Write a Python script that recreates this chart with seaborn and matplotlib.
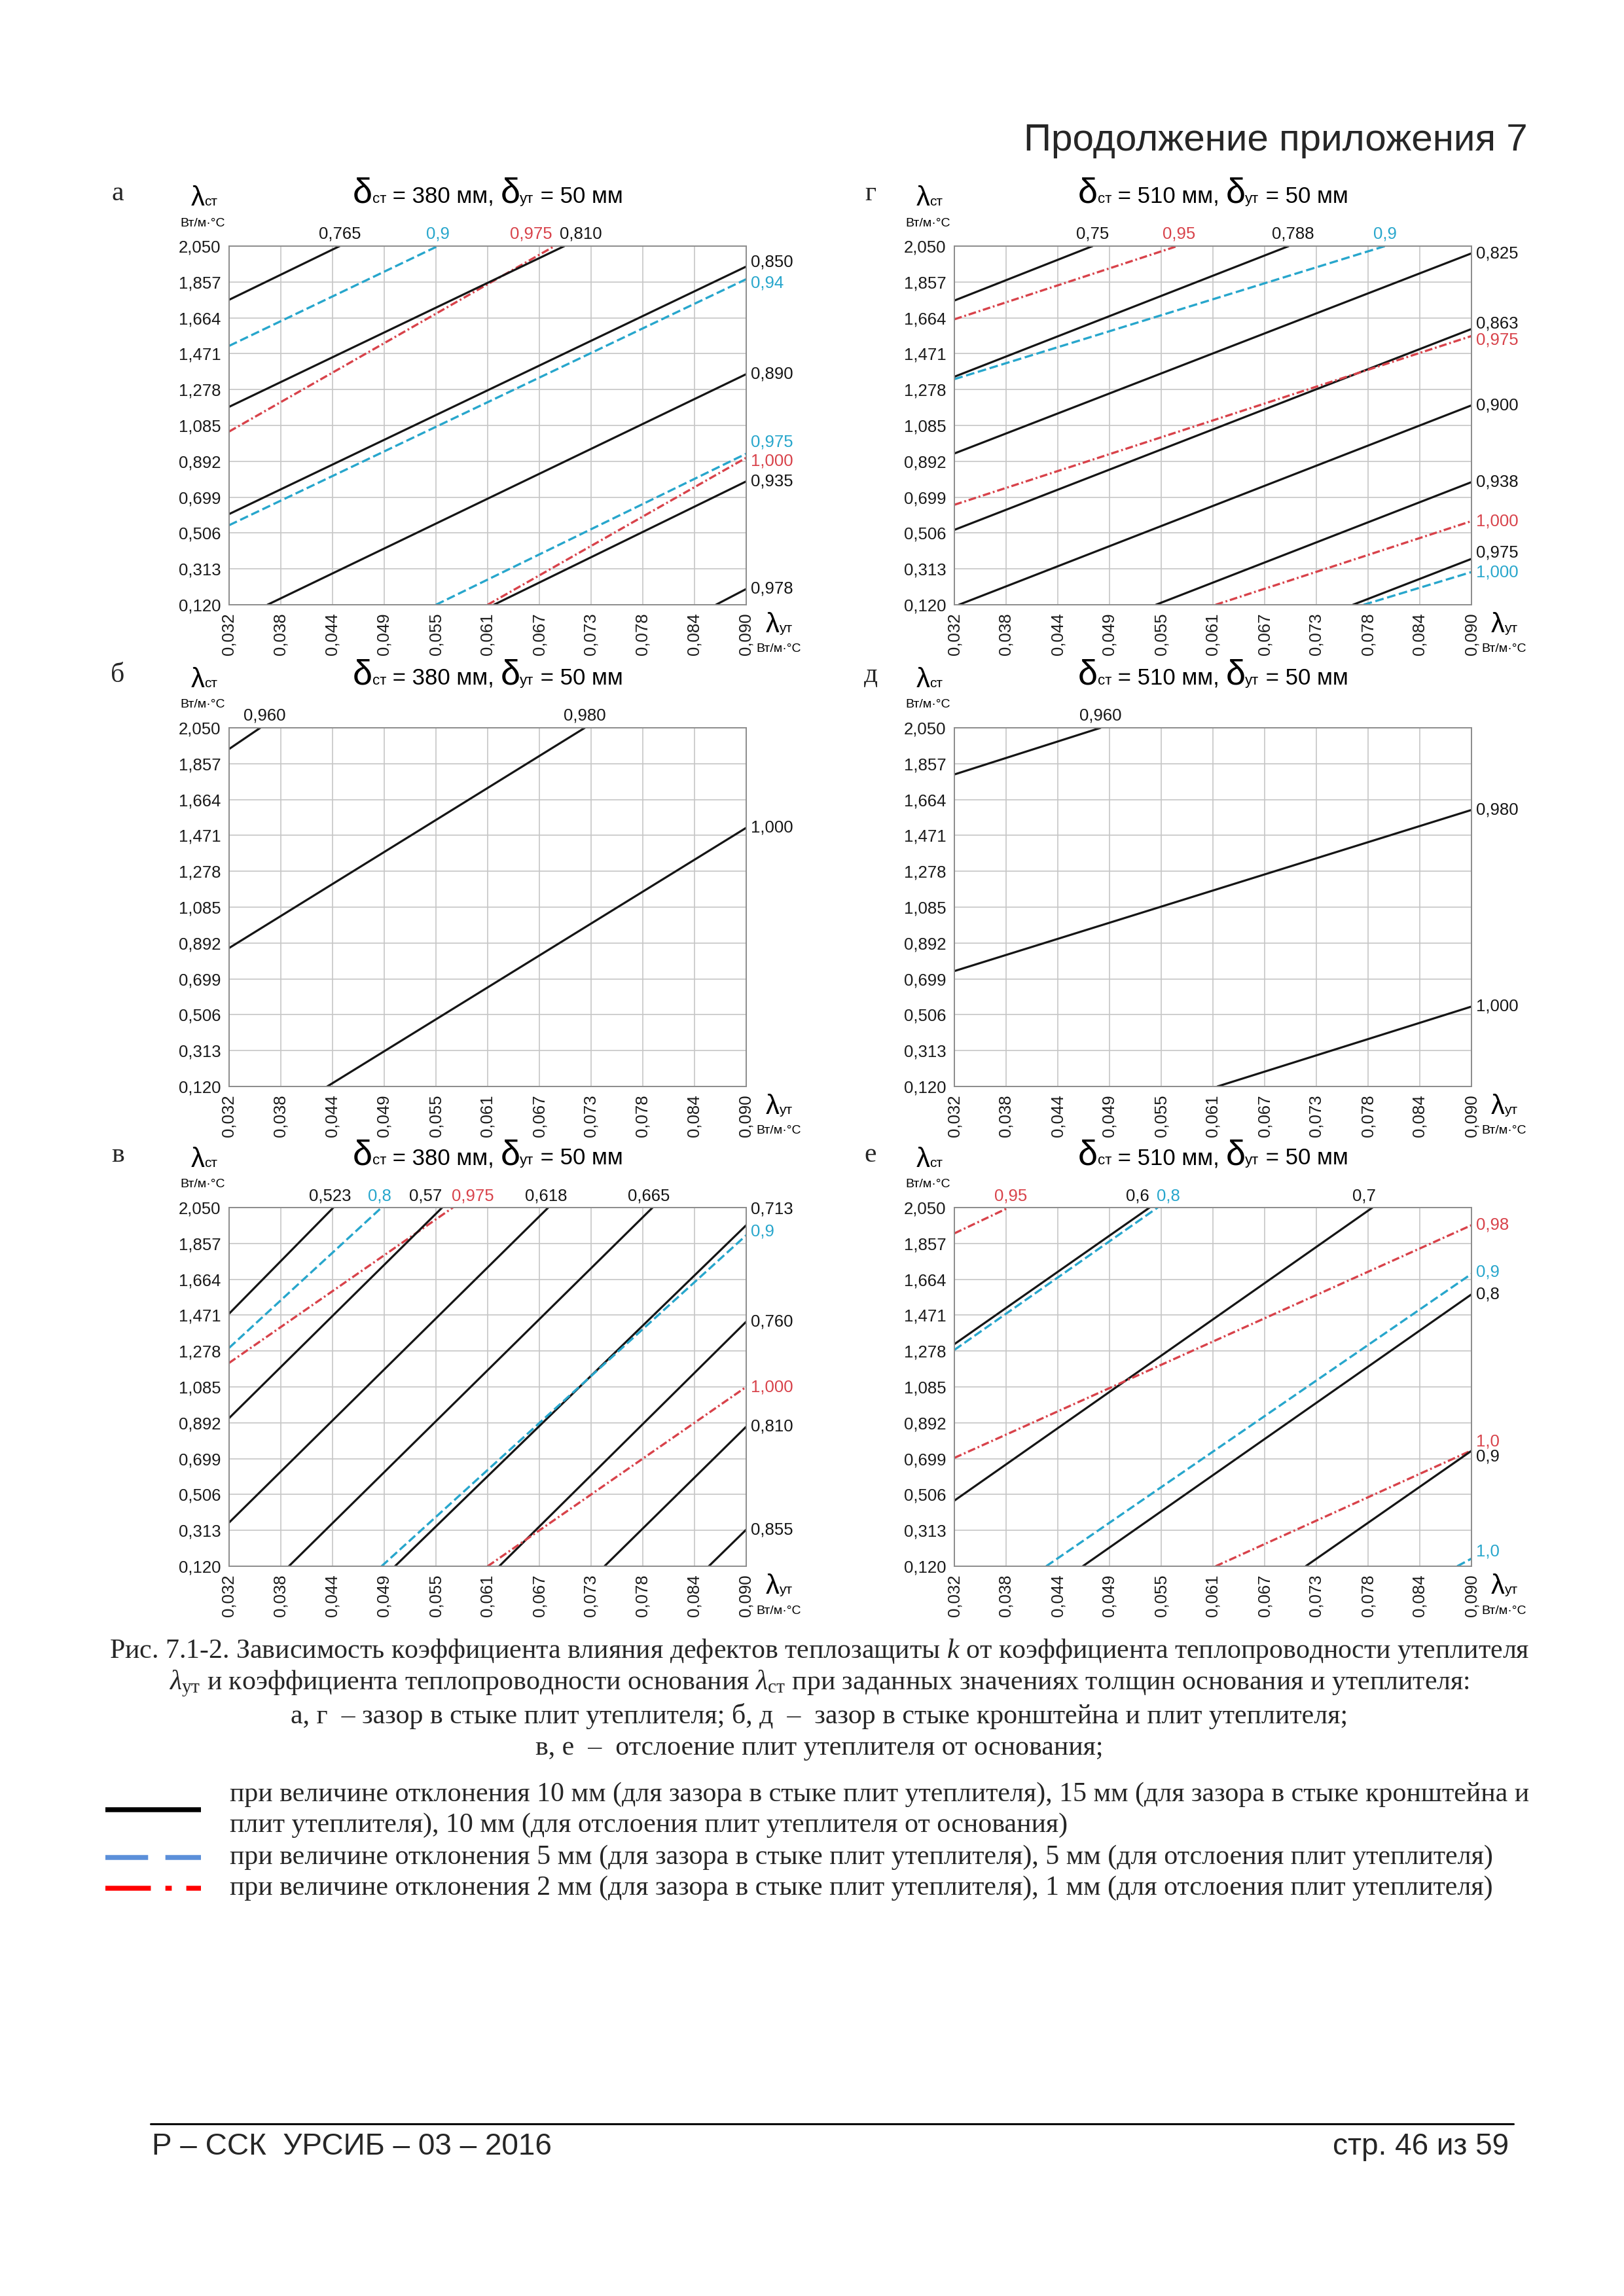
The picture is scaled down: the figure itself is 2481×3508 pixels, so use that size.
import numpy as np
import pandas as pd
import matplotlib
matplotlib.use("Agg")
import matplotlib.pyplot as plt
import seaborn as sns
from matplotlib.offsetbox import TextArea, HPacker, AnnotationBbox
from matplotlib.lines import Line2D

# ----------------------------- DATA -----------------------------
X_TICK_LABELS = ["0,032", "0,038", "0,044", "0,049", "0,055", "0,061",
                 "0,067", "0,073", "0,078", "0,084", "0,090"]
Y_TICK_LABELS = ["0,120", "0,313", "0,506", "0,699", "0,892", "1,085",
                 "1,278", "1,471", "1,664", "1,857", "2,050"]
X_MIN, X_MAX = 0.032, 0.090      # λут, Вт/м·°С
Y_MIN, Y_MAX = 0.120, 2.050      # λст, Вт/м·°С

PANEL_LETTERS = ["а", "г", "б", "д", "в", "е"]
DELTA_ST = [380, 510, 380, 510, 380, 510]   # мм
DELTA_UT = [50, 50, 50, 50, 50, 50]         # мм

# series: "d10" = 10/15 мм (black), "d5" = 5 мм (blue), "d2" = 2/1 мм (red)
# panel а
A_K = ["0,765", "0,9", "0,975", "0,810", "0,850", "0,94", "0,890", "0,975", "1,000", "0,935", "0,978"]
A_S = ["d10", "d5", "d2", "d10", "d10", "d5", "d10", "d5", "d2", "d10", "d10"]
A_X0 = [0.032, 0.032, 0.032, 0.032, 0.032, 0.032, 0.0363, 0.0552, 0.0610, 0.0617, 0.0866]
A_Y0 = [1.761, 1.513, 1.052, 1.185, 0.608, 0.548, 0.120, 0.120, 0.120, 0.120, 0.120]
A_X1 = [0.0444, 0.0554, 0.0685, 0.0696, 0.090, 0.090, 0.090, 0.090, 0.090, 0.090, 0.090]
A_Y1 = [2.050, 2.050, 2.050, 2.050, 1.940, 1.872, 1.361, 0.933, 0.911, 0.784, 0.205]
# panel г
G_K = ["0,75", "0,95", "0,788", "0,9", "0,825", "0,863", "0,975", "0,900", "0,938", "1,000", "0,975", "1,000"]
G_S = ["d10", "d2", "d10", "d5", "d10", "d10", "d2", "d10", "d10", "d2", "d10", "d5"]
G_X0 = [0.032, 0.032, 0.032, 0.032, 0.032, 0.032, 0.032, 0.0325, 0.0546, 0.0613, 0.0767, 0.0779]
G_Y0 = [1.757, 1.656, 1.347, 1.334, 0.934, 0.523, 0.658, 0.120, 0.120, 0.120, 0.120, 0.120]
G_X1 = [0.0475, 0.0570, 0.0695, 0.0803, 0.090, 0.090, 0.090, 0.090, 0.090, 0.090, 0.090, 0.090]
G_Y1 = [2.050, 2.050, 2.050, 2.050, 2.011, 1.604, 1.566, 1.193, 0.780, 0.570, 0.367, 0.296]
# panel б
B_K = ["0,960", "0,980", "1,000"]
B_S = ["d10", "d10", "d10"]
B_X0 = [0.032, 0.032, 0.0430]
B_Y0 = [1.936, 0.865, 0.120]
B_X1 = [0.0355, 0.0719, 0.090]
B_Y1 = [2.050, 2.050, 1.512]
# panel д
D_K = ["0,960", "0,980", "1,000"]
D_S = ["d10", "d10", "d10"]
D_X0 = [0.032, 0.032, 0.0615]
D_Y0 = [1.799, 0.741, 0.120]
D_X1 = [0.0484, 0.090, 0.090]
D_Y1 = [2.050, 1.608, 0.550]
# panel в
V_K = ["0,523", "0,8", "0,975", "0,57", "0,618", "0,665", "0,713", "0,9", "0,760", "1,000", "0,810", "0,855"]
V_S = ["d10", "d5", "d2", "d10", "d10", "d10", "d10", "d5", "d10", "d2", "d10", "d10"]
V_X0 = [0.032, 0.032, 0.032, 0.032, 0.032, 0.0387, 0.0506, 0.0491, 0.0623, 0.0610, 0.0741, 0.0858]
V_Y0 = [1.479, 1.295, 1.214, 0.917, 0.355, 0.120, 0.120, 0.120, 0.120, 0.120, 0.120, 0.120]
V_X1 = [0.0437, 0.0491, 0.0571, 0.0559, 0.0678, 0.0795, 0.090, 0.090, 0.090, 0.090, 0.090, 0.090]
V_Y1 = [2.050, 2.050, 2.050, 2.050, 2.050, 2.050, 1.955, 1.901, 1.436, 1.085, 0.871, 0.317]
# panel е
E_K = ["0,95", "0,6", "0,8", "0,7", "0,98", "0,9", "0,8", "1,0", "0,9", "1,0"]
E_S = ["d2", "d10", "d5", "d10", "d2", "d5", "d10", "d2", "d10", "d5"]
E_X0 = [0.032, 0.032, 0.032, 0.032, 0.032, 0.0423, 0.0464, 0.0613, 0.0714, 0.0884]
E_Y0 = [1.911, 1.315, 1.284, 0.473, 0.703, 0.120, 0.120, 0.120, 0.120, 0.120]
E_X1 = [0.0381, 0.0539, 0.0548, 0.0789, 0.090, 0.090, 0.090, 0.090, 0.090, 0.090]
E_Y1 = [2.050, 2.050, 2.050, 2.050, 1.955, 1.693, 1.583, 0.743, 0.741, 0.161]

PANELS = [
    (A_K, A_S, A_X0, A_Y0, A_X1, A_Y1),
    (G_K, G_S, G_X0, G_Y0, G_X1, G_Y1),
    (B_K, B_S, B_X0, B_Y0, B_X1, B_Y1),
    (D_K, D_S, D_X0, D_Y0, D_X1, D_Y1),
    (V_K, V_S, V_X0, V_Y0, V_X1, V_Y1),
    (E_K, E_S, E_X0, E_Y0, E_X1, E_Y1),
]

# label nudges (layout only, pixels: dx right, dy up)
LABEL_NUDGE = [
    [(0, 0), (0, 0), (-36, 0), (25, 0), (0, 7), (0, -6), (0, 0), (0, 18), (0, -5), (0, 0), (0, 0)],
    [(0, 0), (3, 0), (7, 0), (0, 0), (0, 0), (0, 8), (0, -6), (0, 0), (0, 0), (0, 0), (0, 9), (0, 0)],
    [(7, 0), (0, 0), (0, 0)],
    [(0, 0), (0, 0), (0, 0)],
    [(-5, 0), (-3, 0), (30, 0), (-25, 0), (-3, 0), (-6, 0), (0, 24), (0, 6), (0, 0), (0, 0), (0, 0), (0, 0)],
    [(3, 0), (-18, 0), (16, 0), (-13, 0), (0, 0), (0, 3), (0, 0), (0, 14), (0, -9), (0, 11)],
]

CAPTION = [
    r"Рис. 7.1-2. Зависимость коэффициента влияния дефектов теплозащиты $k$ от коэффициента теплопроводности утеплителя",
    r"$\lambda_{\mathrm{ут}}$ и коэффициента теплопроводности основания $\lambda_{\mathrm{ст}}$ при заданных значениях толщин основания и утеплителя:",
    "а, г  – зазор в стыке плит утеплителя; б, д  –  зазор в стыке кронштейна и плит утеплителя;",
    "в, е  –  отслоение плит утеплителя от основания;",
]
LEGEND_TEXT = [
    "при величине отклонения 10 мм (для зазора в стыке плит утеплителя), 15 мм (для зазора в стыке кронштейна и",
    "плит утеплителя), 10 мм (для отслоения плит утеплителя от основания)",
    "при величине отклонения 5 мм (для зазора в стыке плит утеплителя), 5 мм (для отслоения плит утеплителя)",
    "при величине отклонения 2 мм (для зазора в стыке плит утеплителя), 1 мм (для отслоения плит утеплителя)",
]
HEADER = "Продолжение приложения 7"
FOOTER_LEFT = "Р – ССК  УРСИБ – 03 – 2016"
FOOTER_RIGHT = "стр. 46 из 59"

# ----------------------------- STYLE -----------------------------
sns.set_theme(style="white")
plt.rcParams["font.family"] = ["Liberation Sans", "DejaVu Sans"]
plt.rcParams["mathtext.fontset"] = "custom"
plt.rcParams["mathtext.rm"] = "Liberation Serif"
plt.rcParams["mathtext.it"] = "Liberation Serif:italic"
plt.rcParams["lines.scale_dashes"] = False

BLACK = "#151515"
BLUE = "#27a6cc"
RED = "#d8424a"
SERIES_STYLE = {
    "d10": dict(color=BLACK, linewidth=2.3, linestyle="-"),
    "d5": dict(color=BLUE, linewidth=2.4, linestyle=(0, (9.5, 4.0))),
    "d2": dict(color=RED, linewidth=2.4, linestyle=(0, (8.5, 3.0, 2.0, 3.0))),
}

W, H = 2481, 3508
fig = plt.figure(figsize=(W / 100, H / 100), dpi=100)
fig.patch.set_facecolor("white")

COL_LEFT = [350, 1458]
ROW_TOP = [376, 1112, 1845]
AX_W, AX_H = 790, 548
LETTER_X = [180, 1330]

TICK_FS = 18.5
LBL_FS = 18.5


def px_ax(left, top, w, h):
    return fig.add_axes([left / W, 1 - (top + h) / H, w / W, h / H])


def composite(parts, color="black"):
    areas = [TextArea(t, textprops=dict(fontsize=s, color=color,
                                        family=["Liberation Sans", "DejaVu Sans"]))
             for t, s in parts]
    return HPacker(children=areas, align="baseline", pad=0, sep=0)


def place(ax, box, xy, off):
    ab = AnnotationBbox(box, xy, xycoords=ax.transAxes, xybox=off,
                        boxcoords="offset pixels", frameon=False,
                        box_alignment=(0.5, 0.5), annotation_clip=False)
    ax.add_artist(ab)


for i, (ks, ss, x0s, y0s, x1s, y1s) in enumerate(PANELS):
    r, c = divmod(i, 2)
    ax = px_ax(COL_LEFT[c], ROW_TOP[r], AX_W, AX_H)
    ax.set_xlim(X_MIN, X_MAX)
    ax.set_ylim(Y_MIN, Y_MAX)
    ax.set_xticks(np.linspace(X_MIN, X_MAX, len(X_TICK_LABELS)))
    ax.set_xticklabels(X_TICK_LABELS, rotation=90, fontsize=TICK_FS)
    ax.set_yticks(np.linspace(Y_MIN, Y_MAX, len(Y_TICK_LABELS)))
    ax.set_yticklabels(Y_TICK_LABELS, fontsize=TICK_FS)
    ax.tick_params(length=0, pad=9, colors="#1a1a1a")
    ax.grid(True, color="#c6c6c6", linewidth=1.2)
    ax.set_axisbelow(True)
    for sp in ax.spines.values():
        sp.set_color("#8c8c8c")
        sp.set_linewidth(1.4)

    for j, (k, s, x0, y0, x1, y1) in enumerate(zip(ks, ss, x0s, y0s, x1s, y1s)):
        seg = pd.DataFrame({"lam_ut": [x0, x1], "lam_st": [y0, y1]})
        st = SERIES_STYLE[s]
        sns.lineplot(data=seg, x="lam_ut", y="lam_st", ax=ax, estimator=None,
                     sort=False, legend=False, color=st["color"],
                     linewidth=st["linewidth"], linestyle=st["linestyle"])
        dx, dy = LABEL_NUDGE[i][j]
        if abs(y1 - Y_MAX) < 1e-9:
            ax.annotate(k, xy=(x1, Y_MAX), xytext=(dx, 18 + dy),
                        textcoords="offset pixels", ha="center", va="center",
                        fontsize=LBL_FS, color=st["color"], annotation_clip=False)
        else:
            ax.annotate(k, xy=(X_MAX, y1), xytext=(7 + dx, dy),
                        textcoords="offset pixels", ha="left", va="center",
                        fontsize=LBL_FS, color=st["color"], annotation_clip=False)
    ax.set_xlabel("")
    ax.set_ylabel("")

    # title
    title = composite([("δ", 39), ("ст", 16), (f" = {DELTA_ST[i]} мм, ", 25),
                       ("δ", 39), ("ут", 16), (f" = {DELTA_UT[i]} мм", 25)])
    place(ax, title, (0.5, 1.0), (0, 80))
    # axis names
    place(ax, composite([("λ", 30), ("ст", 15)]), (0.0, 1.0), (-38, 73))
    place(ax, composite([("Вт/м·°С", 14)]), (0.0, 1.0), (-40, 35))
    place(ax, composite([("λ", 30), ("ут", 15)]), (1.0, 0.0), (50, -31))
    place(ax, composite([("Вт/м·°С", 14)]), (1.0, 0.0), (50, -68))
    # panel letter
    fig.text(LETTER_X[c] / W, 1 - (ROW_TOP[r] - 80) / H, PANEL_LETTERS[i],
             family="Liberation Serif", fontsize=30, ha="center", va="center")

# header
fig.text(2334 / W, 1 - 215 / H, HEADER, fontsize=42, ha="right", va="center")

# caption
for t, y in zip(CAPTION, [2523, 2572, 2622, 2671]):
    fig.text(1252 / W, 1 - y / H, t, family="Liberation Serif", fontsize=30.2,
             ha="center", va="center")

# legend
for t, y in zip(LEGEND_TEXT, [2742, 2789, 2838, 2885]):
    fig.text(351 / W, 1 - y / H, t, family="Liberation Serif", fontsize=30.2,
             ha="left", va="center")
leg_y = [2765, 2838, 2885]
leg_style = [dict(color="black", linestyle="-"),
             dict(color="#5b8fd9", linestyle=(0, (47, 19))),
             dict(color="#ff0000", linestyle=(0, (50, 16, 7, 16)))]
for y, st in zip(leg_y, leg_style):
    fig.add_artist(Line2D([161 / W, 307 / W], [1 - y / H, 1 - y / H],
                          transform=fig.transFigure, linewidth=5.4,
                          solid_capstyle="butt", dash_capstyle="butt", **st))

# footer
fig.add_artist(Line2D([230 / W, 2312 / W], [1 - 3245 / H] * 2,
                      transform=fig.transFigure, color="black", linewidth=2.2))
fig.text(232 / W, 1 - 3280 / H, FOOTER_LEFT, fontsize=33, ha="left", va="center")
fig.text(2305 / W, 1 - 3280 / H, FOOTER_RIGHT, fontsize=33, ha="right", va="center")

fig.savefig("out.png", dpi=100, facecolor="white")
